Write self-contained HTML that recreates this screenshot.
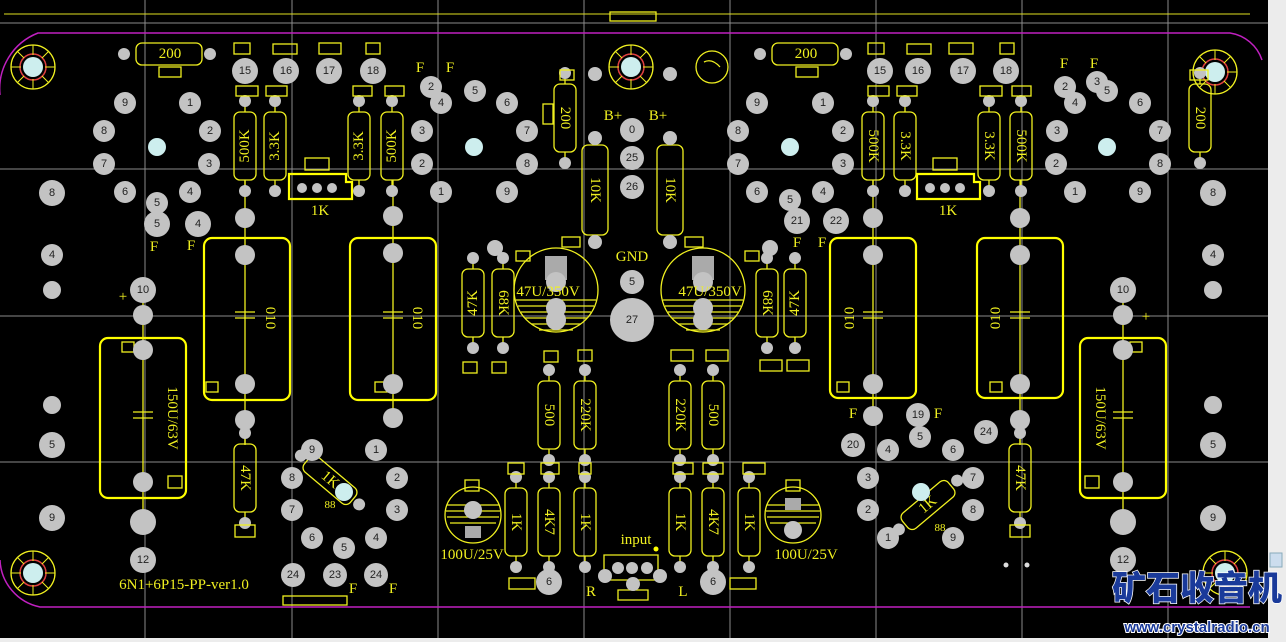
<!DOCTYPE html>
<html><head><meta charset="utf-8"><style>
html,body{margin:0;padding:0;background:#f0f0f0;}
svg{display:block}
.p{fill:#c3c3c3}
.n{font:11px "Liberation Sans",sans-serif;fill:#222;text-anchor:middle;dominant-baseline:central}
.y{fill:none;stroke:#f0f020;stroke-width:1.3}
.yb{fill:none;stroke:#ffff00;stroke-width:2.2}
.t{font:15px "Liberation Serif",serif;fill:#f0f020;text-anchor:middle;dominant-baseline:central}
.g{stroke:#8a8a8a;stroke-width:1}
.lb{fill:#cdeeee}
</style></head><body>
<svg width="1286" height="642" viewBox="0 0 1286 642" xmlns="http://www.w3.org/2000/svg">
<rect x="0" y="0" width="1268" height="638" fill="#000"/>
<rect x="1268" y="0" width="18" height="642" fill="#ececec"/>
<rect x="0" y="638" width="1286" height="4" fill="#ececec"/>
<!-- grid -->
<g class="g">
<line x1="145" y1="0" x2="145" y2="638"/><line x1="292" y1="0" x2="292" y2="638"/><line x1="438" y1="0" x2="438" y2="638"/><line x1="584" y1="0" x2="584" y2="638"/><line x1="730" y1="0" x2="730" y2="638"/><line x1="876" y1="0" x2="876" y2="638"/><line x1="1022" y1="0" x2="1022" y2="638"/><line x1="1168" y1="0" x2="1168" y2="638"/>
<line x1="0" y1="23" x2="1268" y2="23"/><line x1="0" y1="169" x2="1268" y2="169"/><line x1="0" y1="316" x2="1268" y2="316"/><line x1="0" y1="462" x2="1268" y2="462"/>
</g>
<line x1="4" y1="14" x2="1250" y2="14" stroke="#e0e020" stroke-width="1"/>
<rect x="610" y="12" width="46" height="9" class="y"/>
<!-- board outline -->
<path d="M0,95 A60,60 0 0 1 38,33 L1230,33 A40,40 0 0 1 1262,60 M0,560 A50,50 0 0 0 40,607 L1250,607" fill="none" stroke="#c020c0" stroke-width="1.5"/>
<!-- mounting holes -->
<g id="mh"><circle cx="33" cy="67" r="22" class="y"/><circle cx="33" cy="67" r="13" fill="none" stroke="#e04040" stroke-width="1.5"/><circle cx="33" cy="67" r="10" class="lb"/><path d="M33,45V55M33,79V89M11,67H21M45,67H55M17,51L24,58M42,76L49,83M49,51L42,58M24,76L17,83" stroke="#f0f020"/></g>
<use href="#mh" x="598" y="0"/><use href="#mh" x="1182" y="5"/><use href="#mh" x="0" y="506"/><use href="#mh" x="1192" y="506"/>
<circle cx="712" cy="67" r="16" class="y"/><path d="M704,62q8,-4 16,5" class="y"/>

<!-- big capacitors -->
<rect x="204" y="238" width="86" height="162" rx="8" class="yb"/>
<rect x="350" y="238" width="86" height="162" rx="8" class="yb"/>
<rect x="830" y="238" width="86" height="160" rx="8" class="yb"/>
<rect x="977" y="238" width="86" height="160" rx="8" class="yb"/>
<rect x="100" y="338" width="86" height="160" rx="8" class="yb"/>
<rect x="1080" y="338" width="86" height="160" rx="8" class="yb"/>
<g class="y">
<line x1="245" y1="255" x2="245" y2="384"/><line x1="235" y1="312" x2="255" y2="312"/><line x1="235" y1="318" x2="255" y2="318"/>
<line x1="393" y1="255" x2="393" y2="384"/><line x1="383" y1="312" x2="403" y2="312"/><line x1="383" y1="318" x2="403" y2="318"/>
<line x1="873" y1="255" x2="873" y2="384"/><line x1="863" y1="312" x2="883" y2="312"/><line x1="863" y1="318" x2="883" y2="318"/>
<line x1="1020" y1="255" x2="1020" y2="384"/><line x1="1010" y1="312" x2="1030" y2="312"/><line x1="1010" y1="318" x2="1030" y2="318"/>
<line x1="143" y1="350" x2="143" y2="482"/><line x1="133" y1="412" x2="153" y2="412"/><line x1="133" y1="418" x2="153" y2="418"/>
<line x1="1123" y1="350" x2="1123" y2="482"/><line x1="1113" y1="412" x2="1133" y2="412"/><line x1="1113" y1="418" x2="1133" y2="418"/>
<line x1="245" y1="180" x2="245" y2="255"/><line x1="393" y1="180" x2="393" y2="255"/><line x1="873" y1="180" x2="873" y2="255"/><line x1="1020" y1="180" x2="1020" y2="255"/>
<line x1="245" y1="384" x2="245" y2="445"/><line x1="393" y1="384" x2="393" y2="420"/><line x1="873" y1="384" x2="873" y2="410"/><line x1="1020" y1="384" x2="1020" y2="445"/>
<line x1="143" y1="290" x2="143" y2="350"/><line x1="143" y1="482" x2="143" y2="522"/><line x1="1123" y1="290" x2="1123" y2="350"/><line x1="1123" y1="482" x2="1123" y2="522"/>
<rect x="206" y="382" width="12" height="10"/><rect x="375" y="382" width="12" height="10"/><rect x="837" y="382" width="12" height="10"/><rect x="990" y="382" width="12" height="10"/>
<rect x="122" y="342" width="12" height="10"/><rect x="168" y="476" width="14" height="12"/><rect x="1085" y="476" width="14" height="12"/><rect x="1130" y="342" width="12" height="10"/>
</g>
<text class="t" transform="translate(270,318) rotate(90)">010</text>
<text class="t" transform="translate(417,318) rotate(90)">010</text>
<text class="t" transform="translate(850,318) rotate(-90)">010</text>
<text class="t" transform="translate(996,318) rotate(-90)">010</text>
<text class="t" transform="translate(172,418) rotate(90)">150U/63V</text>
<text class="t" transform="translate(1100,418) rotate(90)">150U/63V</text>

<!-- electrolytics -->
<g class="y">
<circle cx="556" cy="290" r="42"/><circle cx="703" cy="290" r="42"/>
<path d="M516,300H596M518,306H594M521,312H591M525,318H587M531,324H581M539,330H573"/>
<path d="M663,300H743M665,306H741M668,312H738M672,318H734M678,324H728M686,330H720"/>
<circle cx="473" cy="515" r="28"/><circle cx="793" cy="515" r="28"/>
<path d="M447,505H499M446,511H500M447,517H499M450,523H496"/>
<path d="M767,505H819M766,511H820M767,517H819M770,523H816"/>
</g>
<rect x="545" y="256" width="22" height="24" fill="#aaa"/><rect x="692" y="256" width="22" height="24" fill="#aaa"/>
<circle cx="556" cy="282" r="10" class="p"/><circle cx="556" cy="308" r="10" class="p"/><circle cx="556" cy="320" r="10" class="p"/>
<circle cx="703" cy="282" r="10" class="p"/><circle cx="703" cy="308" r="10" class="p"/><circle cx="703" cy="320" r="10" class="p"/>
<text class="t" x="548" y="292">47U/350V</text><text class="t" x="710" y="292">47U/350V</text>
<circle cx="473" cy="510" r="9" class="p"/><rect x="465" y="526" width="16" height="12" fill="#aaa"/>
<circle cx="793" cy="530" r="9" class="p"/><rect x="785" y="498" width="16" height="12" fill="#aaa"/>
<text class="t" x="472" y="555">100U/25V</text><text class="t" x="806" y="555">100U/25V</text>

<!-- resistors -->
<defs>
<g id="r"><rect x="-11" y="-34" width="22" height="68" rx="6" class="y"/><line x1="0" y1="-45" x2="0" y2="-34" class="y"/><line x1="0" y1="34" x2="0" y2="45" class="y"/><circle cx="0" cy="-45" r="6" class="p"/><circle cx="0" cy="45" r="6" class="p"/></g>
<g id="rb"><rect x="-13" y="-45" width="26" height="90" rx="6" class="y"/><circle cx="0" cy="-52" r="7" class="p"/><circle cx="0" cy="52" r="7" class="p"/></g>
</defs>
<use href="#r" x="245" y="146"/><use href="#r" x="275" y="146"/><use href="#r" x="359" y="146"/><use href="#r" x="392" y="146"/>
<use href="#r" x="873" y="146"/><use href="#r" x="905" y="146"/><use href="#r" x="989" y="146"/><use href="#r" x="1021" y="146"/>
<use href="#r" x="565" y="118"/><use href="#r" x="1200" y="118"/>
<use href="#rb" x="595" y="190"/><use href="#rb" x="670" y="190"/>
<use href="#r" x="473" y="303"/><use href="#r" x="503" y="303"/><use href="#r" x="767" y="303"/><use href="#r" x="795" y="303"/>
<use href="#r" x="549" y="415"/><use href="#r" x="585" y="415"/><use href="#r" x="680" y="415"/><use href="#r" x="713" y="415"/>
<use href="#r" x="516" y="522"/><use href="#r" x="549" y="522"/><use href="#r" x="585" y="522"/><use href="#r" x="680" y="522"/><use href="#r" x="713" y="522"/><use href="#r" x="749" y="522"/>
<use href="#r" x="245" y="478"/><use href="#r" x="1020" y="478"/>
<g transform="translate(330,480) rotate(-50)"><rect x="-10" y="-30" width="20" height="60" rx="6" class="y"/><circle cx="0" cy="-38" r="6" class="p"/><circle cx="0" cy="38" r="6" class="p"/><text class="t" transform="rotate(90)" font-size="13">1K</text></g>
<g transform="translate(928,505) rotate(50)"><rect x="-10" y="-30" width="20" height="60" rx="6" class="y"/><circle cx="0" cy="-38" r="6" class="p"/><circle cx="0" cy="38" r="6" class="p"/><text class="t" transform="rotate(-90)" font-size="13">1K</text></g>
<g style="font-size:14px">
<text class="t" transform="translate(245,146) rotate(-90)">500K</text><text class="t" transform="translate(275,146) rotate(-90)">3.3K</text><text class="t" transform="translate(359,146) rotate(-90)">3.3K</text><text class="t" transform="translate(392,146) rotate(-90)">500K</text>
<text class="t" transform="translate(873,146) rotate(90)">500K</text><text class="t" transform="translate(905,146) rotate(90)">3.3K</text><text class="t" transform="translate(989,146) rotate(90)">3.3K</text><text class="t" transform="translate(1021,146) rotate(90)">500K</text>
<text class="t" transform="translate(565,118) rotate(90)">200</text><text class="t" transform="translate(1200,118) rotate(90)">200</text>
<text class="t" transform="translate(595,190) rotate(90)">10K</text><text class="t" transform="translate(670,190) rotate(90)">10K</text>
<text class="t" transform="translate(473,303) rotate(-90)">47K</text><text class="t" transform="translate(503,303) rotate(90)">68K</text><text class="t" transform="translate(767,303) rotate(90)">68K</text><text class="t" transform="translate(795,303) rotate(-90)">47K</text>
<text class="t" transform="translate(549,415) rotate(90)">500</text><text class="t" transform="translate(585,415) rotate(90)">220K</text><text class="t" transform="translate(680,415) rotate(90)">220K</text><text class="t" transform="translate(713,415) rotate(90)">500</text>
<text class="t" transform="translate(516,522) rotate(90)">1K</text><text class="t" transform="translate(549,522) rotate(90)">4K7</text><text class="t" transform="translate(585,522) rotate(90)">1K</text><text class="t" transform="translate(680,522) rotate(90)">1K</text><text class="t" transform="translate(713,522) rotate(90)">4K7</text><text class="t" transform="translate(749,522) rotate(90)">1K</text>
<text class="t" transform="translate(245,478) rotate(90)">47K</text><text class="t" transform="translate(1020,478) rotate(90)">47K</text>
</g>
<!-- horizontal 200 -->
<rect x="136" y="43" width="66" height="22" rx="6" class="y"/><circle cx="124" cy="54" r="6" class="p"/><circle cx="210" cy="54" r="6" class="p"/><text class="t" x="170" y="54">200</text>
<rect x="772" y="43" width="66" height="22" rx="6" class="y"/><circle cx="760" cy="54" r="6" class="p"/><circle cx="846" cy="54" r="6" class="p"/><text class="t" x="806" y="54">200</text>
<!-- pots -->
<path d="M289,174H346V182H352V199H289Z" class="yb"/><circle cx="302" cy="188" r="5" class="p"/><circle cx="317" cy="188" r="5" class="p"/><circle cx="332" cy="188" r="5" class="p"/><rect x="305" y="158" width="24" height="12" class="y"/><text class="t" x="320" y="211">1K</text>
<path d="M917,174H974V182H980V199H917Z" class="yb"/><circle cx="930" cy="188" r="5" class="p"/><circle cx="945" cy="188" r="5" class="p"/><circle cx="960" cy="188" r="5" class="p"/><rect x="933" y="158" width="24" height="12" class="y"/><text class="t" x="948" y="211">1K</text>
<!-- small rects -->
<g class="y">
<rect x="159" y="67" width="22" height="10"/><rect x="234" y="43" width="16" height="11"/><rect x="273" y="44" width="24" height="10"/><rect x="319" y="43" width="22" height="11"/><rect x="366" y="43" width="14" height="11"/>
<rect x="236" y="86" width="22" height="10"/><rect x="266" y="86" width="21" height="10"/><rect x="353" y="86" width="19" height="10"/><rect x="385" y="86" width="19" height="10"/>
<rect x="796" y="67" width="22" height="10"/><rect x="868" y="43" width="16" height="11"/><rect x="907" y="44" width="24" height="10"/><rect x="949" y="43" width="24" height="11"/><rect x="1000" y="43" width="14" height="11"/>
<rect x="868" y="86" width="21" height="10"/><rect x="897" y="86" width="20" height="10"/><rect x="980" y="86" width="22" height="10"/><rect x="1012" y="86" width="19" height="10"/><rect x="1190" y="70" width="18" height="10"/>
<rect x="560" y="70" width="14" height="10"/><rect x="543" y="104" width="10" height="20"/><rect x="562" y="237" width="18" height="10"/><rect x="685" y="237" width="18" height="10"/>
<rect x="516" y="251" width="14" height="10"/><rect x="745" y="251" width="14" height="10"/>
<rect x="463" y="362" width="14" height="11"/><rect x="492" y="362" width="14" height="11"/><rect x="760" y="360" width="22" height="11"/><rect x="787" y="360" width="22" height="11"/>
<rect x="544" y="351" width="14" height="11"/><rect x="578" y="350" width="14" height="11"/><rect x="671" y="350" width="22" height="11"/><rect x="706" y="350" width="22" height="11"/>
<rect x="508" y="463" width="16" height="11"/><rect x="541" y="463" width="18" height="11"/><rect x="579" y="463" width="12" height="11"/><rect x="673" y="463" width="20" height="11"/><rect x="703" y="463" width="20" height="11"/><rect x="743" y="463" width="22" height="11"/>
<rect x="465" y="480" width="14" height="11"/><rect x="786" y="480" width="14" height="11"/>
<rect x="509" y="578" width="26" height="11"/><rect x="730" y="578" width="26" height="11"/>
<rect x="235" y="525" width="20" height="12"/><rect x="1010" y="525" width="20" height="12"/>
<rect x="283" y="596" width="64" height="9"/>
<path d="M604,555H658V580H604Z M618,590H648V600H618Z"/>
</g>
<!-- input connector -->
<circle cx="605" cy="576" r="7" class="p"/><circle cx="618" cy="568" r="6" class="p"/><circle cx="632" cy="568" r="6" class="p"/><circle cx="647" cy="568" r="6" class="p"/><circle cx="660" cy="576" r="7" class="p"/><circle cx="633" cy="584" r="7" class="p"/>
<circle cx="656" cy="549" r="2.5" fill="#ff0"/>
<text class="t" x="636" y="540">input</text><text class="t" x="591" y="592" font-size="19">R</text><text class="t" x="683" y="592" font-size="19">L</text>
<text class="t" x="613" y="116">B+</text><text class="t" x="658" y="116">B+</text><text class="t" x="632" y="257">GND</text>
<text class="t" x="184" y="585" font-size="14">6N1+6P15-PP-ver1.0</text>
<text class="t" x="123" y="297" font-size="18">+</text><text class="t" x="1146" y="317" font-size="18">+</text>
<!-- F labels -->
<g class="t">
<text x="420" y="68">F</text><text x="450" y="68">F</text><text x="154" y="247">F</text><text x="191" y="246">F</text><text x="797" y="243">F</text><text x="822" y="243">F</text>
<text x="1064" y="64">F</text><text x="1094" y="64">F</text><text x="853" y="414">F</text><text x="938" y="414">F</text><text x="353" y="589">F</text><text x="393" y="589">F</text>
<text x="330" y="505" font-size="11">88</text><text x="940" y="528" font-size="11">88</text>
</g>
<!-- light blue centers -->
<circle cx="157" cy="147" r="9" class="lb"/><circle cx="474" cy="147" r="9" class="lb"/><circle cx="790" cy="147" r="9" class="lb"/><circle cx="1107" cy="147" r="9" class="lb"/><circle cx="344" cy="492" r="9" class="lb"/><circle cx="921" cy="492" r="9" class="lb"/>
<!-- numbered pads -->
<g>
<g class="p">
<circle cx="245" cy="71" r="13"/><circle cx="286" cy="71" r="13"/><circle cx="329" cy="71" r="13"/><circle cx="373" cy="71" r="13"/>
<circle cx="880" cy="71" r="13"/><circle cx="918" cy="71" r="13"/><circle cx="963" cy="71" r="13"/><circle cx="1006" cy="71" r="13"/>
<circle cx="125" cy="103" r="11"/><circle cx="190" cy="103" r="11"/><circle cx="104" cy="131" r="11"/><circle cx="210" cy="131" r="11"/><circle cx="104" cy="164" r="11"/><circle cx="209" cy="164" r="11"/><circle cx="125" cy="192" r="11"/><circle cx="190" cy="192" r="11"/><circle cx="157" cy="203" r="11"/><circle cx="157" cy="224" r="13"/><circle cx="198" cy="224" r="13"/>
<circle cx="431" cy="87" r="11"/><circle cx="441" cy="103" r="11"/><circle cx="422" cy="131" r="11"/><circle cx="422" cy="164" r="11"/><circle cx="441" cy="192" r="11"/><circle cx="475" cy="91" r="11"/><circle cx="507" cy="103" r="11"/><circle cx="527" cy="131" r="11"/><circle cx="527" cy="164" r="11"/><circle cx="507" cy="192" r="11"/>
<circle cx="757" cy="103" r="11"/><circle cx="823" cy="103" r="11"/><circle cx="738" cy="131" r="11"/><circle cx="843" cy="131" r="11"/><circle cx="738" cy="164" r="11"/><circle cx="843" cy="164" r="11"/><circle cx="757" cy="192" r="11"/><circle cx="823" cy="192" r="11"/><circle cx="790" cy="200" r="11"/><circle cx="797" cy="221" r="13"/><circle cx="836" cy="221" r="13"/>
<circle cx="1065" cy="87" r="11"/><circle cx="1097" cy="82" r="11"/><circle cx="1075" cy="103" r="11"/><circle cx="1107" cy="91" r="11"/><circle cx="1140" cy="103" r="11"/><circle cx="1057" cy="131" r="11"/><circle cx="1160" cy="131" r="11"/><circle cx="1056" cy="164" r="11"/><circle cx="1160" cy="164" r="11"/><circle cx="1075" cy="192" r="11"/><circle cx="1140" cy="192" r="11"/>
<circle cx="632" cy="130" r="12"/><circle cx="632" cy="158" r="12"/><circle cx="632" cy="187" r="12"/><circle cx="632" cy="282" r="12"/><circle cx="632" cy="320" r="22"/>
<circle cx="595" cy="74" r="7"/><circle cx="670" cy="74" r="7"/><circle cx="495" cy="248" r="8"/><circle cx="770" cy="248" r="8"/>
<circle cx="52" cy="193" r="13"/><circle cx="52" cy="255" r="11"/><circle cx="52" cy="290" r="9"/><circle cx="52" cy="405" r="9"/><circle cx="52" cy="445" r="13"/><circle cx="52" cy="518" r="13"/>
<circle cx="1213" cy="193" r="13"/><circle cx="1213" cy="255" r="11"/><circle cx="1213" cy="290" r="9"/><circle cx="1213" cy="405" r="9"/><circle cx="1213" cy="445" r="13"/><circle cx="1213" cy="518" r="13"/>
<circle cx="143" cy="290" r="13"/><circle cx="143" cy="315" r="10"/><circle cx="143" cy="350" r="10"/><circle cx="143" cy="482" r="10"/><circle cx="143" cy="522" r="13"/><circle cx="143" cy="560" r="13"/>
<circle cx="1123" cy="290" r="13"/><circle cx="1123" cy="315" r="10"/><circle cx="1123" cy="350" r="10"/><circle cx="1123" cy="482" r="10"/><circle cx="1123" cy="522" r="13"/><circle cx="1123" cy="560" r="13"/>
<circle cx="245" cy="218" r="10"/><circle cx="245" cy="255" r="10"/><circle cx="245" cy="384" r="10"/><circle cx="245" cy="420" r="10"/>
<circle cx="393" cy="216" r="10"/><circle cx="393" cy="253" r="10"/><circle cx="393" cy="384" r="10"/><circle cx="393" cy="418" r="10"/>
<circle cx="873" cy="218" r="10"/><circle cx="873" cy="255" r="10"/><circle cx="873" cy="384" r="10"/><circle cx="873" cy="416" r="10"/>
<circle cx="1020" cy="218" r="10"/><circle cx="1020" cy="255" r="10"/><circle cx="1020" cy="384" r="10"/><circle cx="1020" cy="420" r="10"/>
<circle cx="312" cy="450" r="11"/><circle cx="376" cy="450" r="11"/><circle cx="292" cy="478" r="11"/><circle cx="397" cy="478" r="11"/><circle cx="292" cy="510" r="11"/><circle cx="397" cy="510" r="11"/><circle cx="312" cy="538" r="11"/><circle cx="376" cy="538" r="11"/><circle cx="344" cy="548" r="11"/>
<circle cx="293" cy="575" r="12"/><circle cx="335" cy="575" r="12"/><circle cx="376" cy="575" r="12"/>
<circle cx="888" cy="450" r="11"/><circle cx="920" cy="437" r="11"/><circle cx="953" cy="450" r="11"/><circle cx="868" cy="478" r="11"/><circle cx="973" cy="478" r="11"/><circle cx="868" cy="510" r="11"/><circle cx="973" cy="510" r="11"/><circle cx="888" cy="538" r="11"/><circle cx="953" cy="538" r="11"/>
<circle cx="918" cy="415" r="12"/><circle cx="853" cy="445" r="12"/><circle cx="986" cy="432" r="12"/>
<circle cx="549" cy="582" r="13"/><circle cx="713" cy="582" r="13"/>
</g>
<g class="n">
<text x="245" y="71">15</text><text x="286" y="71">16</text><text x="329" y="71">17</text><text x="373" y="71">18</text>
<text x="880" y="71">15</text><text x="918" y="71">16</text><text x="963" y="71">17</text><text x="1006" y="71">18</text>
<text x="125" y="103">9</text><text x="190" y="103">1</text><text x="104" y="131">8</text><text x="210" y="131">2</text><text x="104" y="164">7</text><text x="209" y="164">3</text><text x="125" y="192">6</text><text x="190" y="192">4</text><text x="157" y="203">5</text><text x="157" y="224">5</text><text x="198" y="224">4</text>
<text x="431" y="87">2</text><text x="441" y="103">4</text><text x="422" y="131">3</text><text x="422" y="164">2</text><text x="441" y="192">1</text><text x="475" y="91">5</text><text x="507" y="103">6</text><text x="527" y="131">7</text><text x="527" y="164">8</text><text x="507" y="192">9</text>
<text x="757" y="103">9</text><text x="823" y="103">1</text><text x="738" y="131">8</text><text x="843" y="131">2</text><text x="738" y="164">7</text><text x="843" y="164">3</text><text x="757" y="192">6</text><text x="823" y="192">4</text><text x="790" y="200">5</text><text x="797" y="221">21</text><text x="836" y="221">22</text>
<text x="1065" y="87">2</text><text x="1097" y="82">3</text><text x="1075" y="103">4</text><text x="1107" y="91">5</text><text x="1140" y="103">6</text><text x="1057" y="131">3</text><text x="1160" y="131">7</text><text x="1056" y="164">2</text><text x="1160" y="164">8</text><text x="1075" y="192">1</text><text x="1140" y="192">9</text>
<text x="632" y="130">0</text><text x="632" y="158">25</text><text x="632" y="187">26</text><text x="632" y="282">5</text><text x="632" y="320">27</text>
<text x="52" y="193">8</text><text x="52" y="255">4</text><text x="52" y="445">5</text><text x="52" y="518">9</text>
<text x="1213" y="193">8</text><text x="1213" y="255">4</text><text x="1213" y="445">5</text><text x="1213" y="518">9</text>
<text x="143" y="290">10</text><text x="143" y="560">12</text><text x="1123" y="290">10</text><text x="1123" y="560">12</text>
<text x="312" y="450">9</text><text x="376" y="450">1</text><text x="292" y="478">8</text><text x="397" y="478">2</text><text x="292" y="510">7</text><text x="397" y="510">3</text><text x="312" y="538">6</text><text x="376" y="538">4</text><text x="344" y="548">5</text>
<text x="293" y="575">24</text><text x="335" y="575">23</text><text x="376" y="575">24</text>
<text x="888" y="450">4</text><text x="920" y="437">5</text><text x="953" y="450">6</text><text x="868" y="478">3</text><text x="973" y="478">7</text><text x="868" y="510">2</text><text x="973" y="510">8</text><text x="888" y="538">1</text><text x="953" y="538">9</text>
<text x="918" y="415">19</text><text x="853" y="445">20</text><text x="986" y="432">24</text>
<text x="549" y="582">6</text><text x="713" y="582">6</text>
</g>
</g>
<circle cx="1006" cy="565" r="2.5" fill="#ddd"/><circle cx="1027" cy="565" r="2.5" fill="#ddd"/>
<!-- logo -->
<text x="1197" y="600" font-family="'Noto Sans CJK SC',sans-serif" font-weight="900" font-size="34" fill="#1a3a9a" text-anchor="middle" stroke="#fff" stroke-width="1.5" paint-order="stroke">矿石收音机</text>
<text x="1197" y="632" font-family="'Liberation Sans',sans-serif" font-weight="bold" font-size="15" fill="#1a3a9a" text-anchor="middle" stroke="#fff" stroke-width="2" paint-order="stroke">www.crystalradio.cn</text>
<rect x="1270" y="553" width="12" height="14" fill="#cde" stroke="#8ab"/>
</svg>
</body></html>
